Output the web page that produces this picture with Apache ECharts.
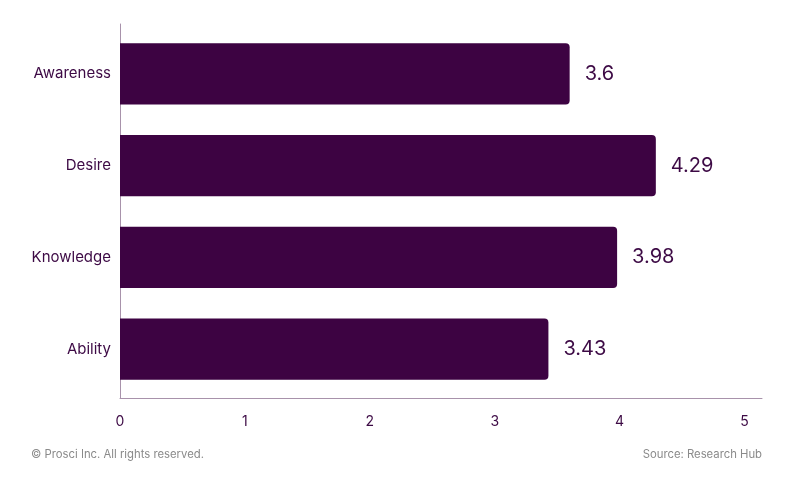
<!DOCTYPE html>
<html><head><meta charset="utf-8">
<script src="https://cdn.jsdelivr.net/npm/echarts@6/dist/echarts.min.js"></script>
<style>html,body{margin:0;padding:0;background:#fff}#c{width:800px;height:484px}</style>
</head><body><div id="c"></div>
<script>
var categories = ['Awareness', 'Desire', 'Knowledge', 'Ability'];
var values = [3.6, 4.29, 3.98, 3.43];
var xTicks = [0, 1, 2, 3, 4, 5];

var FONT = 'Inter, Lato, sans-serif';
var chart = echarts.init(document.getElementById('c'));
chart.setOption({
  animation: false,
  textStyle: { fontFamily: FONT },
  grid: [
    { left: 120, right: 38, top: 28, bottom: 89, containLabel: false },
    { left: 120, right: 38, top: 24, bottom: 86, containLabel: false }
  ],
  xAxis: [{
    gridIndex: 0, type: 'value', min: xTicks[0], max: 5.14, interval: 1,
    axisLine: { show: false }, axisTick: { show: false }, splitLine: { show: false },
    axisLabel: { show: false }
  }, {
    gridIndex: 1, type: 'value', min: xTicks[0], max: 5.14, interval: 1,
    axisLine: { show: true, lineStyle: { color: '#a892ab', width: 1 } },
    axisTick: { show: false },
    splitLine: { show: false },
    axisLabel: { color: '#3d0a45', fontSize: 14, margin: 17, showMaxLabel: false,
      formatter: function (v) { return xTicks.indexOf(v) >= 0 ? String(v) : ''; } }
  }],
  yAxis: [{
    gridIndex: 0, type: 'category', data: categories, inverse: true,
    axisLine: { show: false },
    axisTick: { show: false },
    axisLabel: { color: '#3d0a45', fontSize: 15, margin: 9 }
  }, {
    gridIndex: 1, type: 'category', data: categories, inverse: true,
    axisLine: { show: true, lineStyle: { color: '#a892ab', width: 1 } },
    axisTick: { show: false },
    axisLabel: { show: false }
  }],
  series: [{
    type: 'bar', xAxisIndex: 0, yAxisIndex: 0, data: values, barWidth: '67%',
    itemStyle: { color: '#3d0342', borderRadius: [0, 4, 4, 0] },
    label: { show: true, position: 'right', distance: 15, color: '#3d0a45', fontSize: 20,
      formatter: function (p) { return String(p.value); } }
  }],
  graphic: [
    { type: 'text', left: 31, top: 449, style: { text: '© Prosci Inc. All rights reserved.', fill: '#8a8a8a', fontSize: 11.3, fontFamily: FONT } },
    { type: 'text', right: 38, top: 449, style: { text: 'Source: Research Hub', fill: '#8a8a8a', fontSize: 11.3, fontFamily: FONT } }
  ]
});
</script></body></html>
